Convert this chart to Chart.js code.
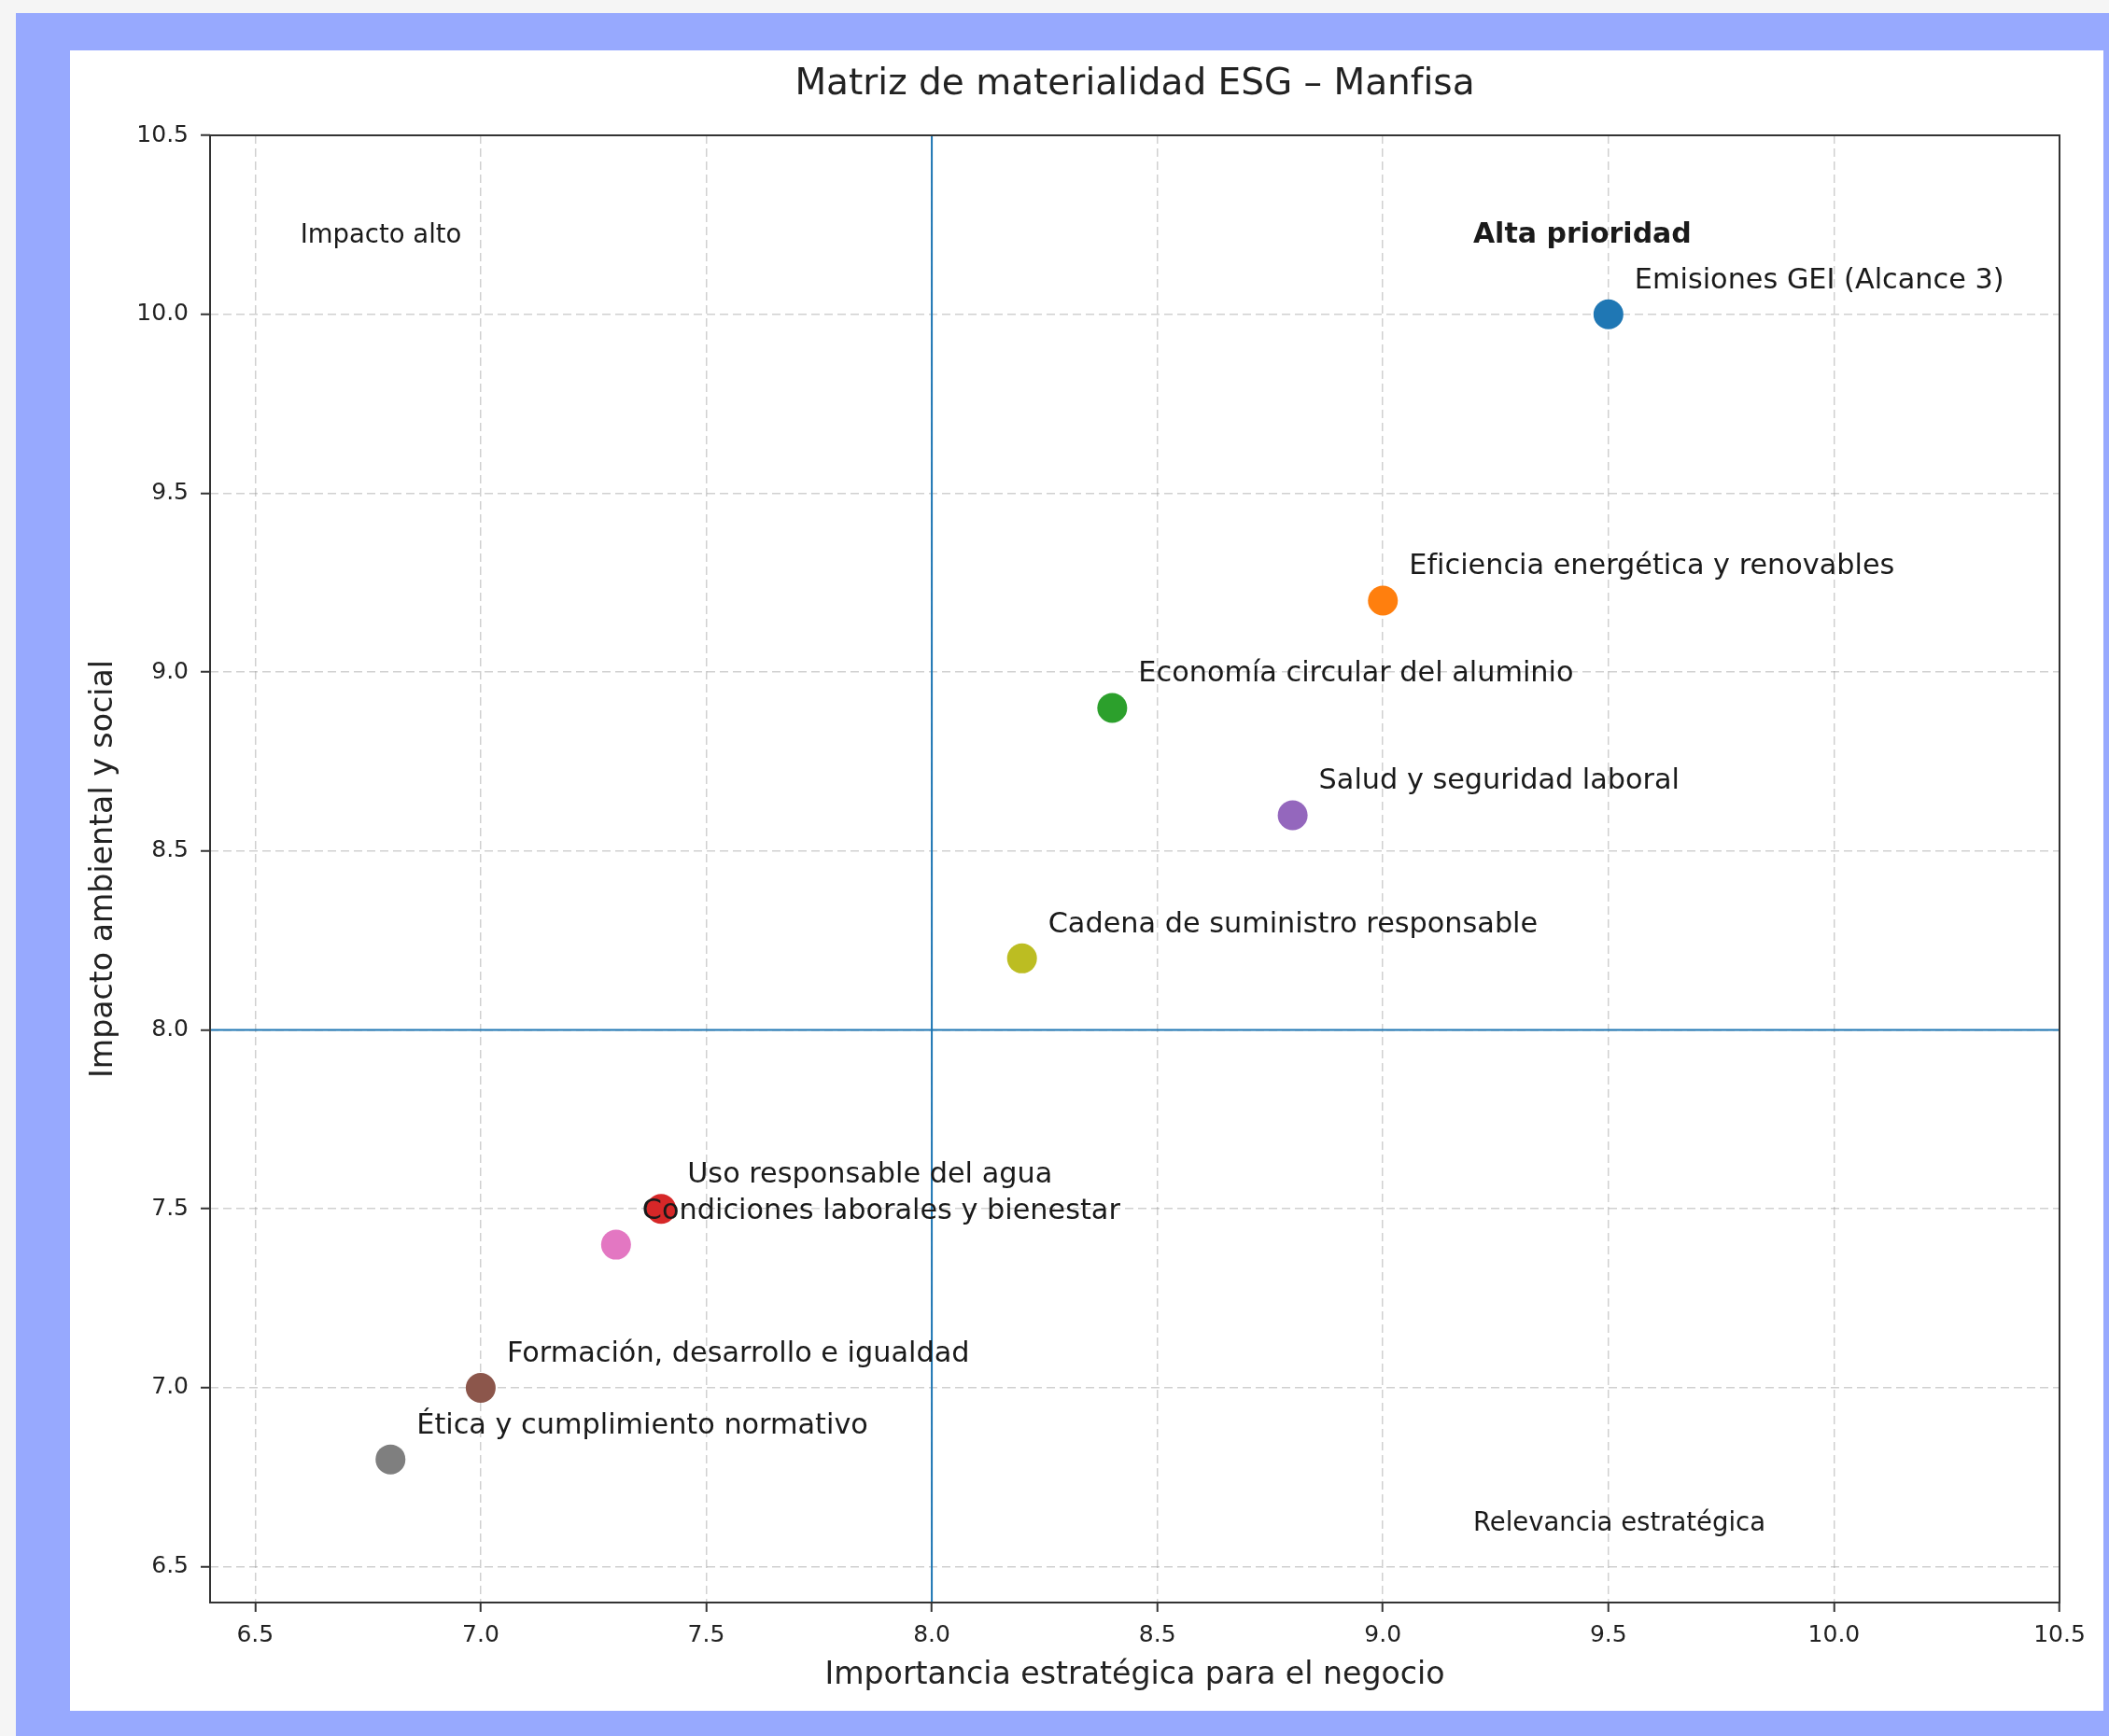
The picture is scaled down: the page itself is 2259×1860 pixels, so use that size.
<!DOCTYPE html>
<html lang="es">
<head>
<meta charset="utf-8">
<title>Matriz de materialidad ESG – Manfisa</title>
<script src="https://cdn.jsdelivr.net/npm/chart.js@4.4.1/dist/chart.umd.min.js"></script>
<style>
  html, body { margin: 0; padding: 0; background: #f5f5f5; width: 2259px; height: 1860px; overflow: hidden; }
  .marco { position: absolute; left: 17px; top: 14px; width: 2242px; height: 1846px; background: #97a9fe; }
  .tarjeta { position: absolute; left: 75px; top: 54px; width: 2178px; height: 1779px; background: #fff; }
  #grafico { position: absolute; left: 0; top: 0; }
</style>
</head>
<body>
<div class="marco"></div>
<div class="tarjeta"></div>
<canvas id="grafico" width="2259" height="1860"></canvas>

<script>
// === Datos de la matriz ===
const temas = [
  'Emisiones GEI (Alcance 3)',
  'Eficiencia energética y renovables',
  'Economía circular del aluminio',
  'Uso responsable del agua',
  'Salud y seguridad laboral',
  'Formación, desarrollo e igualdad',
  'Condiciones laborales y bienestar',
  'Ética y cumplimiento normativo',
  'Cadena de suministro responsable',
];
const importancia = [9.5, 9.0, 8.4, 7.4, 8.8, 7.0, 7.3, 6.8, 8.2];
const impacto     = [10.0, 9.2, 8.9, 7.5, 8.6, 7.0, 7.4, 6.8, 8.2];
const colores = ['#1f77b4', '#ff7f0e', '#2ca02c', '#d62728', '#9467bd', '#8c564b', '#e377c2', '#7f7f7f', '#bcbd22'];

// umbral de los cuadrantes y límites de ejes
const umbral = 8.0;
const limiteMin = 6.4;
const limiteMax = 10.5;
const ticksEje = [6.5, 7.0, 7.5, 8.0, 8.5, 9.0, 9.5, 10.0, 10.5];

// textos de cuadrante
const cuadranteTextos = ['Alta prioridad', 'Impacto alto', 'Relevancia estratégica'];
const cuadranteX = [9.2, 6.6, 9.2];
const cuadranteY = [10.2, 10.2, 6.6];
const cuadranteNegrita = [true, false, false];

const FUENTE = '"DejaVu Sans", Verdana, sans-serif';

// etiquetas junto a cada punto + textos de cuadrante + marco
const etiquetasPlugin = {
  id: 'etiquetas',
  afterDatasetsDraw(chart) {
    const { ctx, scales: { x, y } } = chart;
    ctx.save();
    ctx.fillStyle = '#1a1a1a';
    ctx.textAlign = 'left';
    ctx.textBaseline = 'alphabetic';
    ctx.font = `30.3px ${FUENTE}`;
    temas.forEach((t, i) => {
      ctx.fillText(t, x.getPixelForValue(importancia[i]) + 28, y.getPixelForValue(impacto[i]) - 28);
    });
    cuadranteTextos.forEach((t, i) => {
      ctx.font = cuadranteNegrita[i] ? `bold 30px ${FUENTE}` : `27.5px ${FUENTE}`;
      ctx.fillText(t, x.getPixelForValue(cuadranteX[i]), y.getPixelForValue(cuadranteY[i]));
    });
    ctx.restore();
  },
  afterDraw(chart) {
    const { ctx, chartArea: a } = chart;
    ctx.save();
    ctx.strokeStyle = '#333';
    ctx.lineWidth = 2;
    ctx.strokeRect(a.left, a.top, a.right - a.left, a.bottom - a.top);
    ctx.restore();
  },
};

const ejeComun = (titulo) => ({
  type: 'linear',
  min: limiteMin,
  max: limiteMax,
  z: 1,
  afterBuildTicks: (scale) => { scale.ticks = ticksEje.map(v => ({ value: v })); },
  ticks: {
    color: '#222',
    font: { family: FUENTE, size: 25 },
    callback: (v) => Number(v).toFixed(1),
  },
  grid: {
    color: 'rgba(150,150,150,0.45)',
    lineWidth: 1.5,
    tickLength: 10,
    tickColor: '#333',
    tickWidth: 2,
    tickBorderDash: [],
  },
  border: { display: false, dash: [9, 5] },
  title: {
    display: true,
    text: titulo,
    color: '#222',
    font: { family: FUENTE, size: 33.2 },
  },
});

const escalaX = ejeComun('Importancia estratégica para el negocio');
escalaX.ticks.padding = 10;
escalaX.title.padding = { top: 0, bottom: 45 };
escalaX.afterFit = (scale) => { scale.height = 143; };

const escalaY = ejeComun('Impacto ambiental y social');
escalaY.ticks.padding = 13;
escalaY.title.padding = { top: 91, bottom: 0 };
escalaY.afterFit = (scale) => { scale.width = 225; };

new Chart(document.getElementById('grafico'), {
  type: 'scatter',
  data: {
    datasets: [
      {
        label: 'Temas',
        data: temas.map((t, i) => ({ x: importancia[i], y: impacto[i] })),
        backgroundColor: colores,
        borderWidth: 0,
        pointRadius: 16,
        pointHoverRadius: 16,
        order: 2,
      },
      {
        label: 'umbral vertical',
        data: [{ x: umbral, y: limiteMin }, { x: umbral, y: limiteMax }],
        showLine: true,
        borderColor: '#1f77b4',
        borderWidth: 2,
        pointRadius: 0,
        order: 1,
      },
      {
        label: 'umbral horizontal',
        data: [{ x: limiteMin, y: umbral }, { x: limiteMax, y: umbral }],
        showLine: true,
        borderColor: '#1f77b4',
        borderWidth: 2,
        pointRadius: 0,
        order: 1,
      },
    ],
  },
  options: {
    responsive: false,
    devicePixelRatio: 1,
    animation: false,
    layout: { padding: { left: 0, top: 0, right: 53, bottom: 0 } },
    plugins: {
      legend: { display: false },
      tooltip: { enabled: false },
      title: {
        display: true,
        fullSize: false,
        text: 'Matriz de materialidad ESG – Manfisa',
        color: '#222',
        font: { family: FUENTE, size: 39, weight: 'normal' },
        padding: { top: 67, bottom: 31.2 },
      },
    },
    scales: { x: escalaX, y: escalaY },
  },
  plugins: [etiquetasPlugin],
});
</script>
</body>
</html>
